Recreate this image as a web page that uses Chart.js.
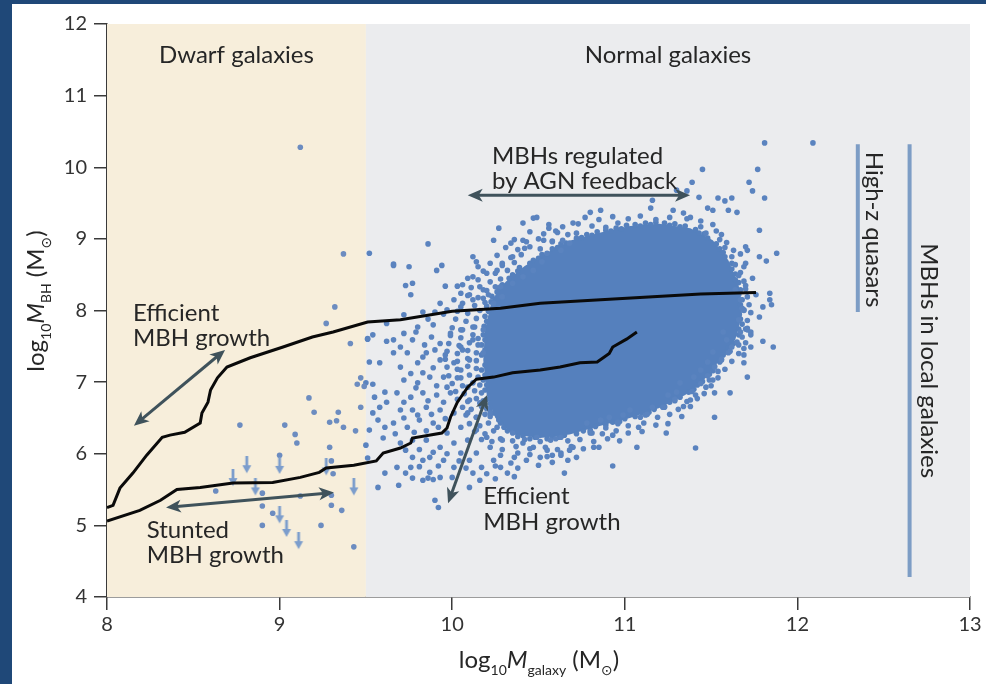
<!DOCTYPE html>
<html>
<head>
<meta charset="utf-8">
<script src="https://cdn.jsdelivr.net/npm/chart.js@4.4.1/dist/chart.umd.min.js"></script>
<style>
  html, body { margin: 0; padding: 0; background: #fff; }
  #wrap { position: relative; width: 986px; height: 684px; overflow: hidden; }
  #c { position: absolute; left: 0; top: 0; }
  .edge { position: absolute; background: #1f4878; }
</style>
</head>
<body>
<div id="wrap">
  <canvas id="c" width="986" height="684"></canvas>
  <div class="edge" style="left:0;top:0;width:12px;height:684px"></div>
  <div class="edge" style="left:0;top:0;width:986px;height:4px"></div>
</div>
<script>
// Axis ticks (log10 galaxy mass, log10 black-hole mass)
const xTicks = [8, 9, 10, 11, 12, 13];
const yTicks = [4, 5, 6, 7, 8, 9, 10, 11, 12];

// Galaxy-type bands along the x axis
const dwarfBand = [8, 9.5];
const normalBand = [9.5, 13];

// Black holes measured in dwarf galaxies [log Mgal, log MBH]
const dwarfPoints = [
  [9.12,10.28],[9.37,8.79],[9.32,8.05],[9.27,7.82],[9.41,7.54],[9.17,6.78],[9.20,6.58],[9.34,6.58],
  [9.29,6.44],[9.33,6.46],[9.37,6.37],[9.44,6.32],[9.47,6.65],[9.45,6.97],[9.47,7.06],[9.49,6.94],
  [8.77,6.40],[9.03,6.40],[9.09,6.27],[9.10,6.15],[9.29,6.09],[9.30,5.90],[9.31,5.72],[9.00,5.98],
  [8.63,5.48],[8.90,5.45],[8.90,5.27],[8.96,5.17],[8.90,5.00],[9.12,5.41],[9.30,5.42],[9.30,5.28],
  [9.36,5.21],[9.24,5.00],[9.43,4.70]
];

// Upper limits on MBH in dwarfs
const upperLimits = [
  [8.81,5.84],[9.00,5.83],[8.73,5.66],[8.86,5.53],[9.00,5.14],[9.04,4.95],[9.11,4.78],[9.43,5.53],[9.27,5.81]
];

// Local galaxies with MBH estimates: outer, sparsely sampled part
const cloudPoints = [
  [9.52,8.80],[9.66,8.65],[9.51,7.60],[9.62,7.57],[9.52,7.28],[9.54,6.97],[9.50,6.12],[9.57,5.53],
  [11.81,10.34],[12.09,10.34],[11.45,9.97],[11.77,9.97],[11.72,9.79],[11.39,9.79],[11.74,9.67],[11.81,9.57],
  [11.36,9.67],[11.43,9.58],[11.54,9.57],[11.58,9.53],[11.62,9.57],[11.48,9.43],[11.51,9.40],[11.60,9.40],
  [11.65,9.37],[11.78,9.12],[11.88,8.80],[11.78,8.75],[11.82,8.69],[11.70,8.89],[11.71,8.84],[11.69,8.61],
  [11.84,8.24],[11.84,8.15],[11.85,8.08],[11.80,8.05],[11.78,7.91],[11.86,7.49],[11.71,7.73],[11.71,7.07],
  [10.80,9.37],[10.86,9.40],[11.16,9.54],[11.15,9.43],[11.28,9.40],[11.34,9.36],[11.38,9.30],[11.30,9.68],
  [11.67,8.15],[11.70,8.35],[11.66,8.49],[11.64,8.29],[11.68,8.03],[11.66,7.87],
  [9.66,8.63],[9.75,8.61],[9.86,8.93],[9.73,8.35],[9.77,8.38],[9.76,8.22],[9.94,8.63],[9.91,8.56],
  [9.96,8.34],[10.03,8.34],[10.12,8.75],[10.14,8.68],[10.15,8.61],[10.24,8.98],[10.27,9.15],[10.41,9.22],
  [10.47,9.29],[10.49,9.30],[10.56,9.15],[10.61,9.09],[10.70,9.22],[10.72,9.08],[10.34,8.94],[10.41,8.98],
  [10.42,8.87],[10.35,8.75],[10.29,8.66],[10.26,8.56],[10.20,8.52],[10.53,8.98],[10.58,8.96],[10.64,8.98],
  [10.12,8.47],[10.09,8.45],[10.06,8.36],[10.16,8.33],[10.20,8.28],[10.28,8.33],[10.05,8.24],[10.10,8.22],
  [10.01,8.15],[10.12,8.15],[10.18,8.17],[9.93,8.10],[9.97,8.01],[10.05,8.05],[9.90,7.98],[9.72,7.94],
  [9.83,7.98],[10.24,8.10],[10.29,8.19],[10.35,8.38],[10.41,8.47],[10.47,8.56],[10.52,8.68],[10.55,8.80],
  [10.63,8.84],[10.68,8.94],
  [9.51,7.61],[9.54,7.66],[9.50,6.99],[9.61,6.86],[9.58,6.65],[9.62,6.72],[9.57,6.47],[9.61,6.37],
  [9.60,6.22],[9.51,5.94],[9.68,5.81],[9.73,5.73],[9.61,5.73],[9.77,5.66],[9.83,5.63],[9.86,5.66],
  [9.89,5.64],[9.87,5.74],[9.93,5.67],[9.83,5.91],[9.76,5.81],[9.77,5.95],[9.87,5.95],[9.95,5.91],
  [10.01,5.81],[9.90,5.35],[9.92,5.25],[10.00,5.67],[10.05,6.01],[10.10,5.91],[10.14,6.01],[10.12,5.73],
  [10.17,5.81],[10.24,5.91],[10.28,5.81],[10.34,5.87],[10.38,6.01],[10.43,5.91],[10.51,5.95],[10.47,6.09],
  [10.55,6.05],[10.63,6.01],[10.67,5.91],[10.65,5.73],
  [9.66,7.59],[9.72,7.68],[9.77,7.59],[9.66,7.41],[9.74,7.41],[9.70,7.21],[9.80,7.27],[9.85,7.41],
  [9.88,7.63],[9.93,7.54],[9.99,7.68],[10.05,7.49],[9.93,7.31],[10.01,7.27],[9.72,7.03],[9.80,6.99],
  [9.87,7.07],[9.95,7.07],[10.03,7.06],[9.68,6.85],[9.76,6.79],[9.83,6.85],[9.91,6.82],[9.99,6.85],
  [9.70,6.61],[9.77,6.61],[9.85,6.65],[9.93,6.61],[10.01,6.57],[9.66,6.43],[9.74,6.37],[9.81,6.47],
  [9.89,6.43],[9.97,6.29],[10.05,6.37],[9.70,6.15],[9.77,6.19],[9.85,6.19],[9.93,6.09],[10.01,6.15],
  [10.09,6.19],[10.14,6.33],[10.09,6.57],[10.14,6.51],[10.10,6.75],[10.16,6.71],[10.22,6.57],[10.26,6.37],
  [10.20,6.23],[10.29,6.19],[10.35,6.29],[10.41,6.15],[10.49,6.23],[10.57,6.19],[10.63,6.23],[10.70,6.09],
  [10.09,6.93],[10.05,7.17],[10.10,7.31],[10.06,7.45],[10.12,7.59],[10.18,7.41],[10.18,7.73],[10.12,7.77],
  [10.05,7.73],[9.89,7.80],[9.80,7.77],[9.62,7.82],[9.70,7.49],[9.58,7.27],[9.55,6.79],[9.54,6.57],[9.52,6.33],
  [11.80,7.57],[11.69,7.47],[11.73,7.49],[11.69,7.38],[11.69,7.27],[11.61,6.85],[11.54,7.15],[11.52,6.85],
  [11.51,7.03],[11.52,6.51],[11.41,6.08],[11.24,6.29],[11.07,6.09],[10.93,5.83],[10.81,6.29],[10.93,6.26],
  [11.08,6.37],[11.09,6.51],[11.13,6.55],[10.96,6.44],[10.89,6.36],[11.34,6.66],[11.38,6.75],[11.41,6.82],
  [11.49,7.03],[11.47,6.93],[11.56,7.31],[11.60,7.41],[11.62,7.49],[11.65,7.56],[11.67,7.70],[11.71,7.75],
  [11.73,7.70],[11.57,7.70],[11.59,7.59],[11.22,6.65],[11.16,6.65],[11.25,6.82],[11.30,6.86],[11.32,6.99],
  [11.40,7.07],[11.44,7.17],[11.48,7.28],[11.51,7.42],[11.03,6.61],[10.99,6.54],[10.91,6.51],[10.86,6.47],
  [10.78,6.43],[10.80,6.29],[10.58,5.88],[10.32,5.73],[10.25,5.83],[10.16,5.63],[10.10,5.53],[9.69,5.56],
  [10.68,6.05],[10.82,6.09],
  [9.95,7.95],[9.86,7.88],[9.79,7.70],[9.84,7.52],[9.90,7.45],[9.96,7.38],[9.83,7.35],[9.89,7.20],
  [9.76,7.12],[9.83,7.13],[9.91,6.95],[9.97,6.93],[9.79,6.92],[9.86,6.74],[9.95,6.72],[9.72,6.72],
  [9.80,6.54],[9.88,6.55],[9.96,6.49],[9.72,6.50],[9.85,6.32],[9.92,6.37],[9.78,6.30],[9.67,6.28],
  [9.73,6.05],[9.81,6.06],[9.89,6.02],[9.97,6.00],[10.04,5.90],[9.92,5.83],[9.81,5.82],[10.08,5.80],
  [10.20,5.72],[10.38,5.80],[10.50,5.84],[10.58,5.98],[10.36,5.68],[10.25,5.65]
];

// Local galaxies: densely populated rim around the core
const denseRim = [
  [10.77,9.30],[10.85,9.27],[10.93,9.31],[11.02,9.28],[11.09,9.32],[11.18,9.27],[11.26,9.30],[11.36,9.28],[11.44,9.25],
  [10.56,9.20],[10.64,9.17],[10.73,9.21],[10.81,9.18],[10.89,9.16],[10.96,9.22],[11.44,9.17],[11.51,9.20],
  [10.45,9.10],[10.53,9.07],[10.60,9.11],[10.67,9.06],[11.47,9.08],[11.53,9.11],[11.56,9.06],
  [10.36,8.99],[10.43,8.96],[10.50,9.00],[10.58,8.97],[11.55,8.99],[11.59,8.95],
  [10.31,8.88],[10.38,8.85],[10.45,8.89],[10.51,8.86],[11.58,8.88],[11.63,8.84],
  [10.26,8.77],[10.34,8.74],[10.40,8.78],[11.62,8.75],[11.67,8.79],
  [10.22,8.66],[10.29,8.63],[10.36,8.67],[11.64,8.64],[11.70,8.66],
  [10.18,8.55],[10.25,8.52],[10.32,8.56],[11.67,8.53],
  [10.15,8.43],[10.22,8.40],[10.28,8.44],[11.69,8.41],[11.74,8.45],
  [10.11,8.32],[10.18,8.29],[10.25,8.33],[11.70,8.30],
  [10.09,8.21],[10.15,8.18],[10.21,8.22],[11.71,8.19],[11.76,8.22],
  [10.06,8.10],[10.13,8.07],[10.19,8.11],[11.72,8.08],
  [10.03,7.99],[10.09,7.96],[10.16,8.00],[11.73,7.97],[11.69,8.00],
  [10.02,7.88],[10.08,7.85],[10.14,7.89],[11.71,7.86],
  [10.00,7.76],[10.06,7.73],[10.13,7.77],[11.70,7.74],
  [9.99,7.65],[10.05,7.62],[10.12,7.66],[10.15,7.61],[11.68,7.63],[11.73,7.66],
  [9.98,7.54],[10.04,7.51],[10.10,7.55],[10.15,7.52],[11.66,7.52],[11.70,7.55],
  [9.97,7.43],[10.03,7.40],[10.09,7.44],[10.14,7.41],[11.61,7.43],[11.66,7.40],
  [9.96,7.32],[10.03,7.29],[10.09,7.33],[10.14,7.30],[11.56,7.32],[11.62,7.29],
  [9.97,7.21],[10.03,7.18],[10.09,7.22],[10.14,7.19],[11.52,7.21],[11.58,7.18],
  [9.98,7.09],[10.05,7.06],[10.10,7.10],[10.15,7.07],[11.48,7.09],[11.54,7.06],
  [10.00,6.98],[10.06,6.95],[10.12,6.99],[10.16,6.96],[11.44,6.98],[11.50,6.95],
  [10.02,6.87],[10.07,6.84],[10.13,6.88],[10.17,6.85],[11.39,6.87],[11.46,6.84],
  [10.03,6.76],[10.09,6.73],[10.14,6.77],[10.18,6.74],[11.29,6.76],[11.36,6.73],[11.42,6.77],
  [10.06,6.65],[10.11,6.62],[10.17,6.66],[10.20,6.63],[11.23,6.65],[11.31,6.62],[11.38,6.66],
  [10.08,6.54],[10.14,6.51],[10.19,6.55],[10.22,6.52],[11.12,6.54],[11.19,6.51],[11.26,6.55],[11.33,6.52],
  [10.10,6.42],[10.16,6.39],[10.21,6.43],[10.96,6.42],[11.02,6.39],[11.11,6.43],[11.18,6.40],[11.25,6.42],
  [10.13,6.31],[10.19,6.28],[10.24,6.32],[10.80,6.31],[10.87,6.28],[10.95,6.32],[11.02,6.29],[11.10,6.31],
  [10.17,6.20],[10.23,6.17],[10.28,6.21],[10.35,6.18],[10.42,6.20],[10.51,6.17],[10.60,6.21],[10.67,6.18],
  [10.74,6.20],[10.82,6.17],[10.90,6.21],[10.97,6.18],
  [10.22,6.09],[10.29,6.06],[10.37,6.10],[10.45,6.07],[10.54,6.09],[10.61,6.06],[10.69,6.10],[10.76,6.07],[10.85,6.09],
  [10.28,5.98],[10.36,5.95],[10.45,5.99],[10.55,5.96],[10.63,5.98],[10.72,5.95]
];

// Local galaxies sitting on the border of the saturated core
const coreEdge = [
  [10.185,7.78],[10.20,7.85],[10.19,7.92],[10.21,7.99],[10.20,8.06],[10.225,8.12],
  [10.23,8.20],[10.26,8.26],[10.27,8.31],[10.29,8.36],
  [10.33,8.45],[10.35,8.50],[10.38,8.55],[10.39,8.60],
  [10.45,8.66],[10.47,8.70],[10.50,8.73],[10.52,8.78],[10.55,8.79],
  [10.58,8.86],[10.61,8.88],[10.63,8.93],[10.66,8.94],
  [10.72,9.01],[10.75,9.02],[10.78,9.06],[10.81,9.05],[10.84,9.10],
  [10.89,9.12],[10.92,9.11],[10.95,9.15],[10.98,9.14],[11.01,9.19],
  [11.06,9.20],[11.09,9.18],[11.12,9.22],[11.15,9.20],[11.18,9.23],
  [11.23,9.22],[11.26,9.19],[11.29,9.21],[11.32,9.17],[11.35,9.18],
  [11.41,9.13],[11.43,9.08],[11.46,9.07],[11.48,9.01],
  [11.53,8.93],[11.55,8.86],[11.57,8.81],[11.58,8.75],
  [11.62,8.66],[11.62,8.58],[11.64,8.51],[11.64,8.43],[11.66,8.39],
  [11.67,8.29],[11.66,8.22],[11.68,8.15],[11.67,8.08],[11.69,8.01],
  [11.67,7.88],[11.68,7.81],[11.66,7.74],[11.66,7.66],
  [11.63,7.54],[11.60,7.48],[11.59,7.42],[11.57,7.38],
  [11.55,7.28],[11.52,7.22],[11.51,7.16],[11.49,7.11],
  [11.45,7.01],[11.42,6.96],[11.40,6.90],[11.37,6.86],
  [11.32,6.79],[11.29,6.74],[11.26,6.72],[11.23,6.66],
  [11.17,6.62],[11.14,6.58],[11.10,6.57],[11.06,6.52],
  [11.00,6.49],[10.97,6.45],[10.93,6.44],[10.89,6.40],
  [10.83,6.38],[10.80,6.33],[10.76,6.32],[10.72,6.28],
  [10.65,6.26],[10.62,6.23],[10.58,6.24],[10.55,6.21],
  [10.48,6.23],[10.45,6.21],[10.41,6.25],[10.38,6.24],
  [10.32,6.32],[10.30,6.37],[10.28,6.43],[10.27,6.47],
  [10.24,6.57],[10.22,6.63],[10.22,6.70],[10.20,6.76],
  [10.19,6.89],[10.20,6.96],[10.18,7.03],[10.19,7.10],[10.17,7.17],[10.19,7.24],
  [10.17,7.38],[10.19,7.45],[10.17,7.52],[10.19,7.59],[10.18,7.66]
];

// Outline of the saturated core of the local-galaxy distribution
const coreOutline = [
  [10.19,7.73],[10.23,8.15],[10.31,8.40],[10.42,8.62],[10.56,8.82],[10.69,8.98],[10.86,9.09],[11.03,9.18],
  [11.20,9.21],[11.38,9.15],[11.51,8.98],[11.60,8.70],[11.66,8.35],[11.68,7.94],[11.64,7.59],[11.56,7.34],
  [11.47,7.06],[11.35,6.82],[11.20,6.64],[11.03,6.50],[10.86,6.39],[10.68,6.27],[10.51,6.22],[10.35,6.27],
  [10.25,6.50],[10.20,6.82],[10.18,7.31]
];

// Growth tracks from simulations
const efficientTrack = [
  [8.00,5.25],[8.035,5.28],[8.075,5.52],[8.15,5.73],[8.23,5.98],[8.32,6.23],[8.365,6.26],[8.45,6.30],
  [8.54,6.43],[8.55,6.57],[8.585,6.72],[8.60,6.89],[8.64,7.06],[8.695,7.21],[8.83,7.34],[9.02,7.49],
  [9.19,7.63],[9.31,7.70],[9.51,7.84],[9.70,7.87],[10.00,7.99],[10.28,8.03],[10.51,8.10],[10.86,8.15],
  [11.44,8.23],[11.76,8.25]
];
const stuntedTrack = [
  [8.00,5.06],[8.19,5.21],[8.31,5.35],[8.405,5.50],[8.54,5.53],[8.73,5.59],[8.96,5.60],[9.12,5.67],
  [9.23,5.74],[9.27,5.80],[9.43,5.84],[9.56,5.90],[9.60,6.01],[9.70,6.08],[9.76,6.15],[9.77,6.22],
  [9.94,6.29],[9.97,6.36],[9.99,6.51],[10.03,6.72],[10.09,6.93],[10.14,7.04],[10.24,7.07],[10.35,7.13],
  [10.51,7.17],[10.625,7.21],[10.74,7.27],[10.84,7.28],[10.91,7.40],[10.93,7.49],[11.01,7.60],[11.07,7.70]
];

// Mass ranges of the two reference samples [x, yLow, yHigh]
const highZRange = [12.35, 7.98, 10.32];
const localRange = [12.65, 4.28, 10.32];

// Double-headed arrows [x1, y1, x2, y2]
const arrows = [
  [8.156, 6.39, 8.684, 7.45],
  [8.342, 5.25, 9.315, 5.46],
  [10.09, 9.61, 11.378, 9.61],
  [10.202, 6.82, 9.976, 5.31]
];

// Text labels [text, x, y, align]
const labels = [
  ['Dwarf galaxies', 8.75, 11.45, 'center'],
  ['Normal galaxies', 11.25, 11.45, 'center'],
  ['MBHs regulated', 10.23, 10.05, 'left'],
  ['by AGN feedback', 10.23, 9.70, 'left'],
  ['Efficient', 8.15, 7.85, 'left'],
  ['MBH growth', 8.15, 7.50, 'left'],
  ['Stunted', 8.23, 4.82, 'left'],
  ['MBH growth', 8.23, 4.48, 'left'],
  ['Efficient', 10.18, 5.30, 'left'],
  ['MBH growth', 10.18, 4.94, 'left']
];
const sideLabels = [
  ['High-z quasars', 12.44, 9.13],
  ['MBHs in local galaxies', 12.76, 7.30]
];

const FONT = 'Lato, "Open Sans", "DejaVu Sans", sans-serif';
const TEXT = '#262626';
const DOT = '#5a83bf';
const toXY = arr => arr.map(p => ({ x: p[0], y: p[1] }));

function limitMarker() {
  const c = document.createElement('canvas');
  c.width = 12; c.height = 18;
  const g = c.getContext('2d');
  g.fillStyle = '#7c9dcc';
  g.fillRect(4.6, 0, 2.8, 11);
  g.beginPath(); g.moveTo(1.5, 9); g.lineTo(10.5, 9); g.lineTo(6, 17); g.closePath(); g.fill();
  return c;
}

const backdrop = {
  id: 'backdrop',
  beforeDatasetsDraw(chart) {
    const { ctx, chartArea: a, scales: { x, y } } = chart;
    ctx.save();
    ctx.fillStyle = '#f7eedb';
    ctx.fillRect(x.getPixelForValue(dwarfBand[0]), a.top, x.getPixelForValue(dwarfBand[1]) - x.getPixelForValue(dwarfBand[0]), a.bottom - a.top);
    ctx.fillStyle = '#ebecee';
    ctx.fillRect(x.getPixelForValue(normalBand[0]), a.top, x.getPixelForValue(normalBand[1]) - x.getPixelForValue(normalBand[0]), a.bottom - a.top);
    ctx.fillStyle = '#5580bd';
    ctx.beginPath();
    coreOutline.forEach((p, i) => {
      const px = x.getPixelForValue(p[0]), py = y.getPixelForValue(p[1]);
      i ? ctx.lineTo(px, py) : ctx.moveTo(px, py);
    });
    ctx.closePath();
    ctx.fill();
    ctx.restore();
  }
};

function arrowHead(ctx, tx, ty, ang) {
  const L = 15, W = 6.5, N = 4;
  const c = Math.cos(ang), s = Math.sin(ang);
  ctx.beginPath();
  ctx.moveTo(tx, ty);
  ctx.lineTo(tx - L * c + W * s, ty - L * s - W * c);
  ctx.lineTo(tx - (L - N) * c, ty - (L - N) * s);
  ctx.lineTo(tx - L * c - W * s, ty - L * s + W * c);
  ctx.closePath();
  ctx.fill();
}

// Measures a run of text pieces (with subscripts / italics) and returns a drawer
function richText(ctx, parts, size) {
  const subSize = Math.round(size * 0.6);
  let w = 0;
  const items = parts.map(p => {
    const f = (p.italic ? 'italic ' : '') + (p.sub ? subSize : size) + 'px ' + FONT;
    ctx.font = f;
    const m = ctx.measureText(p.t).width;
    const it = { t: p.t, f, dx: w, dy: p.sub ? size * 0.3 : 0 };
    w += m;
    return it;
  });
  return { w, draw(x0, y0) { items.forEach(it => { ctx.font = it.f; ctx.fillText(it.t, x0 + it.dx, y0 + it.dy); }); } };
}

const overlay = {
  id: 'overlay',
  afterDraw(chart) {
    const { ctx, scales: { x, y } } = chart;
    ctx.save();
    // arrows
    ctx.strokeStyle = '#3f525b';
    ctx.fillStyle = '#3f525b';
    ctx.lineWidth = 3;
    arrows.forEach(a => {
      const x1 = x.getPixelForValue(a[0]), y1 = y.getPixelForValue(a[1]);
      const x2 = x.getPixelForValue(a[2]), y2 = y.getPixelForValue(a[3]);
      const ang = Math.atan2(y2 - y1, x2 - x1);
      const c = Math.cos(ang), s = Math.sin(ang), cut = 8;
      ctx.beginPath();
      ctx.moveTo(x1 + cut * c, y1 + cut * s);
      ctx.lineTo(x2 - cut * c, y2 - cut * s);
      ctx.stroke();
      arrowHead(ctx, x2, y2, ang);
      arrowHead(ctx, x1, y1, ang + Math.PI);
    });
    // labels
    ctx.fillStyle = TEXT;
    ctx.font = '24px ' + FONT;
    ctx.textBaseline = 'alphabetic';
    labels.forEach(l => {
      ctx.textAlign = l[3];
      ctx.fillText(l[0], x.getPixelForValue(l[1]), y.getPixelForValue(l[2]));
    });
    ctx.textAlign = 'center';
    ctx.textBaseline = 'middle';
    sideLabels.forEach(l => {
      ctx.save();
      ctx.translate(x.getPixelForValue(l[1]), y.getPixelForValue(l[2]));
      ctx.rotate(Math.PI / 2);
      ctx.fillText(l[0], 0, 0);
      ctx.restore();
    });
    // axis titles
    ctx.textAlign = 'left';
    ctx.textBaseline = 'alphabetic';
    const xt = richText(ctx, [{ t: 'log' }, { t: '10', sub: true }, { t: 'M', italic: true }, { t: 'galaxy', sub: true }, { t: ' (M' }, { t: '\u2299', sub: true }, { t: ')' }], 24);
    xt.draw(539 - xt.w / 2, 668);
    const yt = richText(ctx, [{ t: 'log' }, { t: '10', sub: true }, { t: 'M', italic: true }, { t: 'BH', sub: true }, { t: ' (M' }, { t: '\u2299', sub: true }, { t: ')' }], 24);
    ctx.translate(44, 301);
    ctx.rotate(-Math.PI / 2);
    yt.draw(-yt.w / 2, 0);
    ctx.restore();
  }
};

const axisStyle = {
  grid: { drawOnChartArea: false, drawTicks: true, tickLength: 13, color: '#3a3a3a', lineWidth: 1.5 },
  border: { display: true, color: '#3a3a3a', width: 1.5 }
};

const dots = (arr, color) => ({ data: toXY(arr), pointRadius: 2.8, backgroundColor: color, borderWidth: 0, order: 3 });

new Chart(document.getElementById('c'), {
  type: 'scatter',
  data: {
    datasets: [
      { data: toXY(efficientTrack), showLine: true, borderColor: '#0a0a0a', borderWidth: 3, pointRadius: 0, order: 1 },
      { data: toXY(stuntedTrack), showLine: true, borderColor: '#0a0a0a', borderWidth: 3, pointRadius: 0, order: 1 },
      { data: [{ x: highZRange[0], y: highZRange[1] }, { x: highZRange[0], y: highZRange[2] }], showLine: true, borderColor: '#7d9dc5', borderWidth: 4, pointRadius: 0, borderCapStyle: 'butt', order: 1 },
      { data: [{ x: localRange[0], y: localRange[1] }, { x: localRange[0], y: localRange[2] }], showLine: true, borderColor: '#7d9dc5', borderWidth: 4, pointRadius: 0, borderCapStyle: 'butt', order: 1 },
      { data: toXY(upperLimits), pointStyle: limitMarker(), order: 2 },
      dots(dwarfPoints, '#6c8cc0'),
      dots(cloudPoints, DOT),
      dots(denseRim, DOT),
      dots(coreEdge, '#5580bd')
    ]
  },
  options: {
    responsive: false,
    animation: false,
    devicePixelRatio: 1,
    layout: { padding: { left: 0, top: 24, right: 16, bottom: 0 } },
    plugins: { legend: { display: false }, tooltip: { enabled: false } },
    scales: {
      x: {
        type: 'linear', min: 8, max: 13,
        afterFit(s) { s.height = 87; },
        afterBuildTicks(s) { s.ticks = xTicks.map(v => ({ value: v })); },
        ...axisStyle,
        ticks: { font: { family: FONT, size: 20 }, color: '#333', padding: 3, maxRotation: 0 }
      },
      y: {
        type: 'linear', min: 4, max: 12,
        afterFit(s) { s.width = 107; },
        afterBuildTicks(s) { s.ticks = yTicks.map(v => ({ value: v })); },
        ...axisStyle,
        ticks: { font: { family: FONT, size: 20 }, color: '#333', padding: 7 }
      }
    }
  },
  plugins: [backdrop, overlay]
});
</script>
</body>
</html>
